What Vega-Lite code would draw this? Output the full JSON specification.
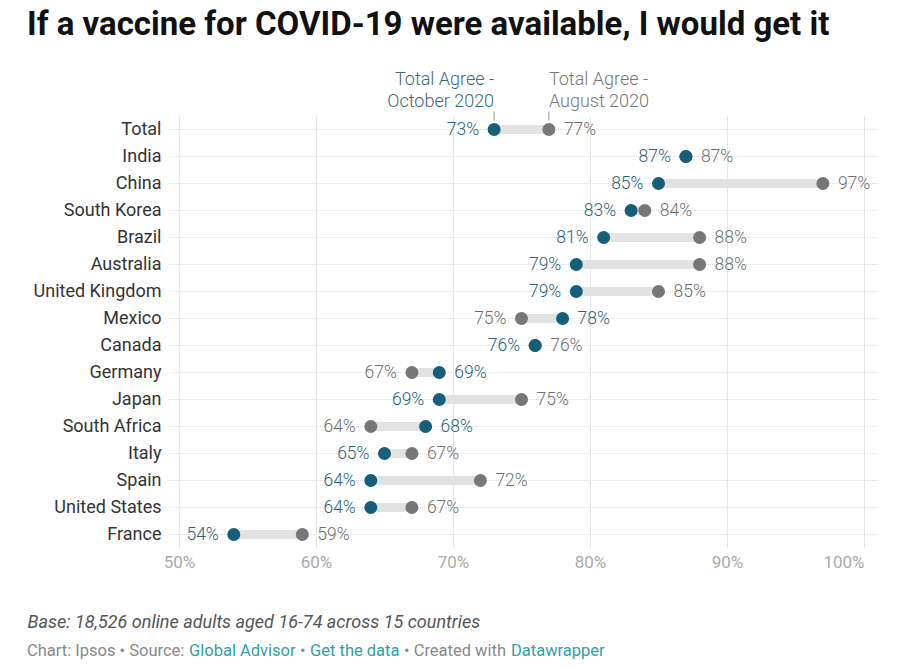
{
  "$schema": "https://vega.github.io/schema/vega-lite/v6.json",
  "background": "white",
  "padding": {"left": 27, "top": 8, "right": 0, "bottom": 0},
  "config": {
    "view": {"stroke": null},
    "font": "Roboto",
    "concat": {"spacing": 12}
  },
  "title": {
    "text": "If a vaccine for COVID-19 were available, I would get it",
    "anchor": "start",
    "frame": "bounds",
    "font": "Roboto",
    "fontSize": 33,
    "fontWeight": "bold",
    "color": "#111111",
    "offset": 29
  },
  "datasets": {
    "rows": [
      {"country": "Total", "oct": 73, "aug": 77},
      {"country": "India", "oct": 87, "aug": 87},
      {"country": "China", "oct": 85, "aug": 97},
      {"country": "South Korea", "oct": 83, "aug": 84},
      {"country": "Brazil", "oct": 81, "aug": 88},
      {"country": "Australia", "oct": 79, "aug": 88},
      {"country": "United Kingdom", "oct": 79, "aug": 85},
      {"country": "Mexico", "oct": 78, "aug": 75},
      {"country": "Canada", "oct": 76, "aug": 76},
      {"country": "Germany", "oct": 69, "aug": 67},
      {"country": "Japan", "oct": 69, "aug": 75},
      {"country": "South Africa", "oct": 68, "aug": 64},
      {"country": "Italy", "oct": 65, "aug": 67},
      {"country": "Spain", "oct": 64, "aug": 72},
      {"country": "United States", "oct": 64, "aug": 67},
      {"country": "France", "oct": 54, "aug": 59}
    ]
  },
  "vconcat": [
    {
      "width": 685,
      "height": 432,
      "data": {"name": "rows"},
      "encoding": {
        "y": {
          "field": "country",
          "type": "nominal",
          "sort": null,
          "scale": {"type": "band", "paddingInner": 0, "paddingOuter": 0},
          "axis": {
            "title": null,
            "domain": false,
            "ticks": false,
            "grid": false,
            "labelPadding": 18,
            "labelFontSize": 18,
            "labelColor": "#333333",
            "labelFont": "Roboto"
          }
        }
      },
      "layer": [
        {
          "mark": {"type": "rule", "color": "#dddddd", "strokeWidth": 1, "strokeDash": [1, 1]},
          "encoding": {
            "x": {"datum": 49.2, "type": "quantitative"},
            "x2": {"datum": 101.05}
          }
        },
        {
          "mark": {"type": "rule", "color": "#e2e2e2", "strokeWidth": 9},
          "encoding": {
            "x": {
              "field": "oct",
              "type": "quantitative",
              "scale": {"domain": [50, 100], "nice": false, "zero": false},
              "axis": {
                "title": "Base: 18,526 online adults aged 16-74 across 15 countries",
                "titleFont": "Roboto",
                "titleFontSize": 18,
                "titleFontStyle": "italic",
                "titleFontWeight": "normal",
                "titleColor": "#555555",
                "titleAnchor": "start",
                "titleAlign": "left",
                "titleBaseline": "alphabetic",
                "titleX": -152,
                "titleY": 79,
                "values": [50, 60, 70, 80, 90, 100],
                "labelExpr": "datum.value + '%'",
                "labelFlush": false,
                "labelAlign": {"expr": "datum.value == 100 ? 'right' : 'center'"},
                "labelFontSize": 17,
                "labelColor": "#aaaaaa",
                "labelPadding": 6,
                "domain": false,
                "ticks": false,
                "grid": true,
                "gridColor": "#e6e6e6",
                "gridWidth": 1
              }
            },
            "x2": {"field": "aug"}
          }
        },
        {
          "transform": [{"filter": "datum.country == 'Total'"}],
          "mark": {"type": "point", "shape": "M0,-1L0,1", "filled": false, "stroke": "#999999", "strokeWidth": 1, "size": 81, "yOffset": -13.5, "opacity": 1},
          "encoding": {"x": {"field": "oct", "type": "quantitative"}}
        },
        {
          "transform": [{"filter": "datum.country == 'Total'"}],
          "mark": {"type": "point", "shape": "M0,-1L0,1", "filled": false, "stroke": "#999999", "strokeWidth": 1, "size": 81, "yOffset": -13.5, "opacity": 1},
          "encoding": {"x": {"field": "aug", "type": "quantitative"}}
        },
        {
          "mark": {"type": "point", "filled": true, "color": "#777777", "size": 170, "opacity": 1},
          "encoding": {"x": {"field": "aug", "type": "quantitative"}}
        },
        {
          "mark": {"type": "point", "filled": true, "color": "#155f7a", "size": 170, "opacity": 1},
          "encoding": {"x": {"field": "oct", "type": "quantitative"}}
        },
        {
          "transform": [{"filter": "datum.oct <= datum.aug"}],
          "mark": {"type": "text", "align": "right", "dx": -15, "fontSize": 17.5, "fontWeight": 300, "color": "#2b6378", "text": {"expr": "datum.oct + '%'"}},
          "encoding": {"x": {"field": "oct", "type": "quantitative"}}
        },
        {
          "transform": [{"filter": "datum.oct > datum.aug"}],
          "mark": {"type": "text", "align": "left", "dx": 15, "fontSize": 17.5, "fontWeight": 300, "color": "#2b6378", "text": {"expr": "datum.oct + '%'"}},
          "encoding": {"x": {"field": "oct", "type": "quantitative"}}
        },
        {
          "transform": [{"filter": "datum.aug >= datum.oct"}],
          "mark": {"type": "text", "align": "left", "dx": 15, "fontSize": 17.5, "fontWeight": 300, "color": "#6f6f6f", "text": {"expr": "datum.aug + '%'"}},
          "encoding": {"x": {"field": "aug", "type": "quantitative"}}
        },
        {
          "transform": [{"filter": "datum.aug < datum.oct"}],
          "mark": {"type": "text", "align": "right", "dx": -15, "fontSize": 17.5, "fontWeight": 300, "color": "#6f6f6f", "text": {"expr": "datum.aug + '%'"}},
          "encoding": {"x": {"field": "aug", "type": "quantitative"}}
        },
        {
          "transform": [{"filter": "datum.country == 'Total'"}],
          "mark": {"type": "text", "align": "right", "baseline": "alphabetic", "dy": -45, "lineHeight": 22, "fontSize": 18, "fontWeight": 300, "color": "#3a6a78", "text": ["Total Agree -", "October 2020"]},
          "encoding": {"x": {"field": "oct", "type": "quantitative"}}
        },
        {
          "transform": [{"filter": "datum.country == 'Total'"}],
          "mark": {"type": "text", "align": "left", "baseline": "alphabetic", "dy": -45, "lineHeight": 22, "fontSize": 18, "fontWeight": 300, "color": "#777777", "text": ["Total Agree -", "August 2020"]},
          "encoding": {"x": {"field": "aug", "type": "quantitative"}}
        }
      ]
    },
    {
      "spacing": 4,
      "hconcat": [
        {
          "width": 1, "height": 1,
          "data": {"values": [{}]},
          "mark": {"type": "text", "text": ""},
          "title": {"text": "Chart: Ipsos • Source:", "anchor": "start", "offset": 0, "dx": -152, "fontSize": 16.5, "fontWeight": "normal", "color": "#888888"}
        },
        {
          "width": 1, "height": 1,
          "data": {"values": [{}]},
          "mark": {"type": "text", "text": ""},
          "title": {"text": "Global Advisor", "anchor": "start", "offset": 0, "fontSize": 16.5, "fontWeight": "normal", "color": "#2f9fa3"}
        },
        {
          "width": 1, "height": 1,
          "data": {"values": [{}]},
          "mark": {"type": "text", "text": ""},
          "title": {"text": "•", "anchor": "start", "offset": 0, "fontSize": 16.5, "fontWeight": "normal", "color": "#888888"}
        },
        {
          "width": 1, "height": 1,
          "data": {"values": [{}]},
          "mark": {"type": "text", "text": ""},
          "title": {"text": "Get the data", "anchor": "start", "offset": 0, "fontSize": 16.5, "fontWeight": "normal", "color": "#2f9fa3"}
        },
        {
          "width": 1, "height": 1,
          "data": {"values": [{}]},
          "mark": {"type": "text", "text": ""},
          "title": {"text": "• Created with", "anchor": "start", "offset": 0, "fontSize": 16.5, "fontWeight": "normal", "color": "#888888"}
        },
        {
          "width": 1, "height": 1,
          "data": {"values": [{}]},
          "mark": {"type": "text", "text": ""},
          "title": {"text": "Datawrapper", "anchor": "start", "offset": 0, "fontSize": 16.5, "fontWeight": "normal", "color": "#2f9fa3"}
        }
      ]
    }
  ]
}
